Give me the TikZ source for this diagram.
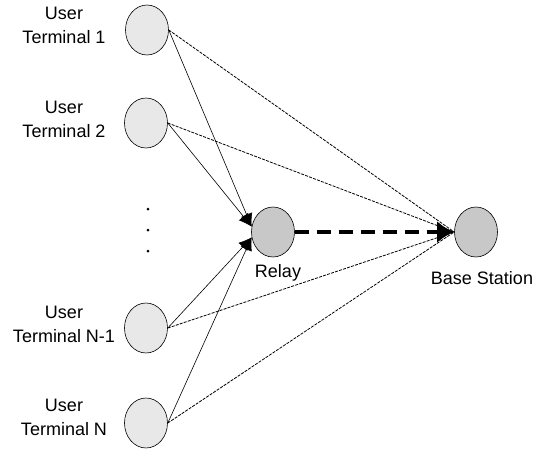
\documentclass[tikz,border=0pt]{standalone}
\usepackage{fontspec}
\setmainfont{Liberation Sans}
\usepackage{xcolor}
\usepackage{tikz}
\usetikzlibrary{shapes.geometric, arrows.meta}

\definecolor{userfill}{RGB}{232,232,232}
\definecolor{stationfill}{RGB}{200,200,200}

\begin{document}
\begin{tikzpicture}[x=1pt,y=-1pt,
  caption/.style={font=\fontsize{18}{24}\selectfont,align=center,inner sep=0pt},
  direct/.style={line width=0.8pt,dash pattern=on 3pt off 1.2pt},
  uplink/.style={line width=0.6pt,-{Latex[length=13pt,width=12pt]}},
  forward/.style={line width=3.5pt,dash pattern=on 14pt off 8pt,-{Latex[length=17pt,width=22pt]}}]
\useasboundingbox (0,0) rectangle (536,450);

\begin{scope}[every node/.style={ellipse,draw,line width=0.6pt,fill=userfill,minimum width=43pt,minimum height=50pt,inner sep=0pt}]
\node (terminal 1) at (147,30) {};
\node (terminal 2) at (146,123) {};
\node (terminal N-1) at (146,328) {};
\node (terminal N) at (146,423) {};
\node[fill=stationfill] (relay) at (273,232) {};
\node[fill=stationfill] (base station) at (476,232) {};
\end{scope}

% dots between terminal 2 and terminal N-1
\foreach \y in {209,230,251}
  \fill (148,\y) circle (1.5pt);

\node[caption] (label 1) at (64,25) {User\\Terminal 1};
\node[caption] (label 2) at (64,119) {User\\Terminal 2};
\node[caption] (label N-1) at (64,324) {User\\Terminal N-1};
\node[caption] (label N) at (64,417) {User\\Terminal N};
\node[caption,anchor=base] (relay label) at (278,277) {Relay};
\node[caption,anchor=base] (station label) at (482,284) {Base Station};

\begin{scope}
\path [direct] (terminal 1.east) edge (base station.west);
\path [direct] (terminal 2.east) edge (base station.west);
\path [direct] (terminal N-1.east) edge (base station.west);
\path [direct] (terminal N.east) edge (base station.west);
\path [uplink] (terminal 1.east) edge (relay.166);
\path [uplink] (terminal 2.east) edge (relay.166);
\path [uplink] (terminal N-1.east) edge (relay.194);
\path [uplink] (terminal N.east) edge (relay.194);
\path [forward] (relay.east) edge (base station.west);
\end{scope}

\end{tikzpicture}
\end{document}
